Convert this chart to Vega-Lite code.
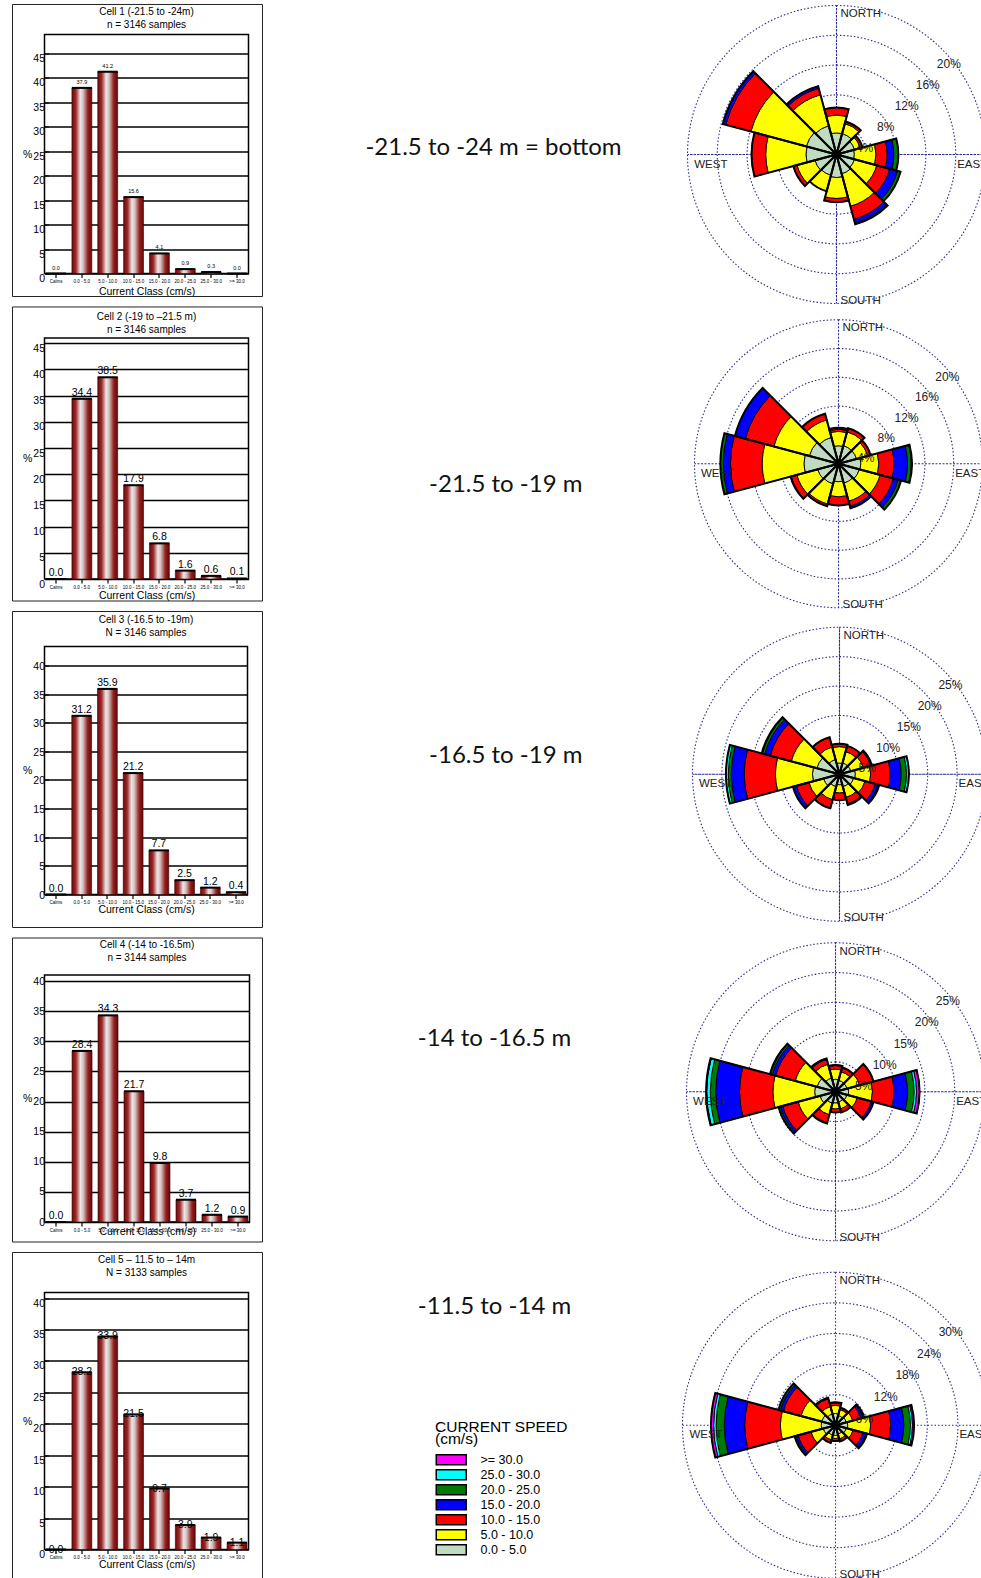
{
"$schema": "https://vega.github.io/schema/vega-lite/v6.json",
"padding": {"left": 10.5, "top": 2.5, "right": 0, "bottom": 0},
"background": "white",
"config": {"view": {"stroke": null}},
"datasets": {
"bars": [
{"cell":1,"cls":"Calms","pct":0.0},{"cell":1,"cls":"0.0 - 5.0","pct":37.9},{"cell":1,"cls":"5.0 - 10.0","pct":41.2},{"cell":1,"cls":"10.0 - 15.0","pct":15.6},{"cell":1,"cls":"15.0 - 20.0","pct":4.1},{"cell":1,"cls":"20.0 - 25.0","pct":0.9},{"cell":1,"cls":"25.0 - 30.0","pct":0.3},{"cell":1,"cls":">= 30.0","pct":0.0},
{"cell":2,"cls":"Calms","pct":0.0},{"cell":2,"cls":"0.0 - 5.0","pct":34.4},{"cell":2,"cls":"5.0 - 10.0","pct":38.5},{"cell":2,"cls":"10.0 - 15.0","pct":17.9},{"cell":2,"cls":"15.0 - 20.0","pct":6.8},{"cell":2,"cls":"20.0 - 25.0","pct":1.6},{"cell":2,"cls":"25.0 - 30.0","pct":0.6},{"cell":2,"cls":">= 30.0","pct":0.1},
{"cell":3,"cls":"Calms","pct":0.0},{"cell":3,"cls":"0.0 - 5.0","pct":31.2},{"cell":3,"cls":"5.0 - 10.0","pct":35.9},{"cell":3,"cls":"10.0 - 15.0","pct":21.2},{"cell":3,"cls":"15.0 - 20.0","pct":7.7},{"cell":3,"cls":"20.0 - 25.0","pct":2.5},{"cell":3,"cls":"25.0 - 30.0","pct":1.2},{"cell":3,"cls":">= 30.0","pct":0.4},
{"cell":4,"cls":"Calms","pct":0.0},{"cell":4,"cls":"0.0 - 5.0","pct":28.4},{"cell":4,"cls":"5.0 - 10.0","pct":34.3},{"cell":4,"cls":"10.0 - 15.0","pct":21.7},{"cell":4,"cls":"15.0 - 20.0","pct":9.8},{"cell":4,"cls":"20.0 - 25.0","pct":3.7},{"cell":4,"cls":"25.0 - 30.0","pct":1.2},{"cell":4,"cls":">= 30.0","pct":0.9},
{"cell":5,"cls":"Calms","pct":0.0},{"cell":5,"cls":"0.0 - 5.0","pct":28.2},{"cell":5,"cls":"5.0 - 10.0","pct":33.9},{"cell":5,"cls":"10.0 - 15.0","pct":21.5},{"cell":5,"cls":"15.0 - 20.0","pct":9.7},{"cell":5,"cls":"20.0 - 25.0","pct":3.9},{"cell":5,"cls":"25.0 - 30.0","pct":1.9},{"cell":5,"cls":">= 30.0","pct":1.1}
],
"depths": [
{"row":1,"label":"-21.5 to -24 m = bottom"},{"row":2,"label":"-21.5 to -19 m"},{"row":3,"label":"-16.5 to -19 m"},{"row":4,"label":"-14 to -16.5 m"},{"row":5,"label":"-11.5 to -14 m"}
],
"rings": [
{"r":1,"v":4,"t":"4%"},{"r":1,"v":8,"t":"8%"},{"r":1,"v":12,"t":"12%"},{"r":1,"v":16,"t":"16%"},{"r":1,"v":20,"t":"20%"},
{"r":2,"v":4,"t":"4%"},{"r":2,"v":8,"t":"8%"},{"r":2,"v":12,"t":"12%"},{"r":2,"v":16,"t":"16%"},{"r":2,"v":20,"t":"20%"},
{"r":3,"v":5,"t":"5%"},{"r":3,"v":10,"t":"10%"},{"r":3,"v":15,"t":"15%"},{"r":3,"v":20,"t":"20%"},{"r":3,"v":25,"t":"25%"},
{"r":4,"v":5,"t":"5%"},{"r":4,"v":10,"t":"10%"},{"r":4,"v":15,"t":"15%"},{"r":4,"v":20,"t":"20%"},{"r":4,"v":25,"t":"25%"},
{"r":5,"v":6,"t":"6%"},{"r":5,"v":12,"t":"12%"},{"r":5,"v":18,"t":"18%"},{"r":5,"v":24,"t":"24%"},{"r":5,"v":30,"t":"30%"}
],
"rose": [
{"r":1,"d":0,"k":0,"p":2.9},{"r":1,"d":0,"k":5,"p":2.4},{"r":1,"d":0,"k":10,"p":1.0},
{"r":1,"d":30,"k":0,"p":2.9},{"r":1,"d":30,"k":5,"p":1.4},{"r":1,"d":30,"k":10,"p":0.2},{"r":1,"d":30,"k":15,"p":0.1},
{"r":1,"d":60,"k":0,"p":2.5},{"r":1,"d":60,"k":5,"p":0.8},{"r":1,"d":60,"k":10,"p":0.3},
{"r":1,"d":90,"k":0,"p":2.4},{"r":1,"d":90,"k":5,"p":2.9},{"r":1,"d":90,"k":10,"p":1.5},{"r":1,"d":90,"k":15,"p":0.9},{"r":1,"d":90,"k":20,"p":0.6},
{"r":1,"d":120,"k":0,"p":2.5},{"r":1,"d":120,"k":5,"p":3.1},{"r":1,"d":120,"k":10,"p":1.8},{"r":1,"d":120,"k":15,"p":1.1},{"r":1,"d":120,"k":20,"p":0.4},
{"r":1,"d":150,"k":0,"p":2.7},{"r":1,"d":150,"k":5,"p":4.5},{"r":1,"d":150,"k":10,"p":1.8},{"r":1,"d":150,"k":15,"p":0.5},{"r":1,"d":150,"k":20,"p":0.2},
{"r":1,"d":180,"k":0,"p":3.1},{"r":1,"d":180,"k":5,"p":2.8},{"r":1,"d":180,"k":10,"p":0.5},
{"r":1,"d":210,"k":0,"p":2.9},{"r":1,"d":210,"k":5,"p":2.2},
{"r":1,"d":240,"k":0,"p":3.0},{"r":1,"d":240,"k":5,"p":2.5},{"r":1,"d":240,"k":10,"p":0.5},
{"r":1,"d":270,"k":0,"p":4.1},{"r":1,"d":270,"k":5,"p":5.4},{"r":1,"d":270,"k":10,"p":1.9},
{"r":1,"d":300,"k":0,"p":4.2},{"r":1,"d":300,"k":5,"p":7.7},{"r":1,"d":300,"k":10,"p":3.5},{"r":1,"d":300,"k":15,"p":0.4},
{"r":1,"d":330,"k":0,"p":4.0},{"r":1,"d":330,"k":5,"p":4.3},{"r":1,"d":330,"k":10,"p":0.9},{"r":1,"d":330,"k":15,"p":0.3},

{"r":2,"d":0,"k":0,"p":2.5},{"r":2,"d":0,"k":5,"p":2.0},{"r":2,"d":0,"k":10,"p":0.3},{"r":2,"d":0,"k":15,"p":0.2},
{"r":2,"d":30,"k":0,"p":2.6},{"r":2,"d":30,"k":5,"p":2.0},{"r":2,"d":30,"k":10,"p":0.5},
{"r":2,"d":60,"k":0,"p":2.6},{"r":2,"d":60,"k":5,"p":1.6},{"r":2,"d":60,"k":10,"p":0.4},
{"r":2,"d":90,"k":0,"p":3.1},{"r":2,"d":90,"k":5,"p":2.5},{"r":2,"d":90,"k":10,"p":2.1},{"r":2,"d":90,"k":15,"p":1.9},{"r":2,"d":90,"k":20,"p":0.5},{"r":2,"d":90,"k":25,"p":0.1},
{"r":2,"d":120,"k":0,"p":3.0},{"r":2,"d":120,"k":5,"p":3.0},{"r":2,"d":120,"k":10,"p":1.9},{"r":2,"d":120,"k":15,"p":0.7},{"r":2,"d":120,"k":20,"p":0.4},
{"r":2,"d":150,"k":0,"p":2.8},{"r":2,"d":150,"k":5,"p":2.6},{"r":2,"d":150,"k":10,"p":0.7},{"r":2,"d":150,"k":15,"p":0.3},
{"r":2,"d":180,"k":0,"p":2.5},{"r":2,"d":180,"k":5,"p":2.1},{"r":2,"d":180,"k":10,"p":1.2},
{"r":2,"d":210,"k":0,"p":2.9},{"r":2,"d":210,"k":5,"p":2.9},{"r":2,"d":210,"k":10,"p":0.3},
{"r":2,"d":240,"k":0,"p":3.0},{"r":2,"d":240,"k":5,"p":3.0},{"r":2,"d":240,"k":10,"p":0.8},{"r":2,"d":240,"k":15,"p":0.1},
{"r":2,"d":270,"k":0,"p":4.8},{"r":2,"d":270,"k":5,"p":5.8},{"r":2,"d":270,"k":10,"p":4.4},{"r":2,"d":270,"k":15,"p":1.0},{"r":2,"d":270,"k":20,"p":0.4},
{"r":2,"d":300,"k":0,"p":4.2},{"r":2,"d":300,"k":5,"p":5.1},{"r":2,"d":300,"k":10,"p":4.1},{"r":2,"d":300,"k":15,"p":1.5},
{"r":2,"d":330,"k":0,"p":3.8},{"r":2,"d":330,"k":5,"p":2.5},{"r":2,"d":330,"k":10,"p":0.9},

{"r":3,"d":0,"k":0,"p":1.9},{"r":3,"d":0,"k":5,"p":2.8},{"r":3,"d":0,"k":10,"p":0.5},
{"r":3,"d":30,"k":0,"p":2.0},{"r":3,"d":30,"k":5,"p":2.0},{"r":3,"d":30,"k":10,"p":1.0},
{"r":3,"d":60,"k":0,"p":2.0},{"r":3,"d":60,"k":5,"p":2.2},{"r":3,"d":60,"k":10,"p":1.3},{"r":3,"d":60,"k":15,"p":0.2},
{"r":3,"d":90,"k":0,"p":2.7},{"r":3,"d":90,"k":5,"p":2.6},{"r":3,"d":90,"k":10,"p":3.3},{"r":3,"d":90,"k":15,"p":1.9},{"r":3,"d":90,"k":20,"p":0.9},{"r":3,"d":90,"k":25,"p":0.4},
{"r":3,"d":120,"k":0,"p":2.5},{"r":3,"d":120,"k":5,"p":2.0},{"r":3,"d":120,"k":10,"p":1.8},{"r":3,"d":120,"k":15,"p":0.5},{"r":3,"d":120,"k":20,"p":0.2},
{"r":3,"d":150,"k":0,"p":2.2},{"r":3,"d":150,"k":5,"p":1.9},{"r":3,"d":150,"k":10,"p":1.1},{"r":3,"d":150,"k":15,"p":0.2},
{"r":3,"d":180,"k":0,"p":1.8},{"r":3,"d":180,"k":5,"p":1.4},{"r":3,"d":180,"k":10,"p":1.2},
{"r":3,"d":210,"k":0,"p":2.2},{"r":3,"d":210,"k":5,"p":2.3},{"r":3,"d":210,"k":10,"p":1.5},
{"r":3,"d":240,"k":0,"p":2.8},{"r":3,"d":240,"k":5,"p":2.6},{"r":3,"d":240,"k":10,"p":2.2},{"r":3,"d":240,"k":15,"p":0.6},
{"r":3,"d":270,"k":0,"p":4.6},{"r":3,"d":270,"k":5,"p":6.3},{"r":3,"d":270,"k":10,"p":5.3},{"r":3,"d":270,"k":15,"p":2.2},{"r":3,"d":270,"k":20,"p":0.5},{"r":3,"d":270,"k":25,"p":0.4},
{"r":3,"d":300,"k":0,"p":4.0},{"r":3,"d":300,"k":5,"p":4.5},{"r":3,"d":300,"k":10,"p":3.7},{"r":3,"d":300,"k":15,"p":1.0},{"r":3,"d":300,"k":20,"p":0.4},{"r":3,"d":300,"k":25,"p":0.1},
{"r":3,"d":330,"k":0,"p":2.6},{"r":3,"d":330,"k":5,"p":2.2},{"r":3,"d":330,"k":10,"p":1.7},

{"r":4,"d":0,"k":0,"p":2.1},{"r":4,"d":0,"k":5,"p":1.7},{"r":4,"d":0,"k":10,"p":0.6},{"r":4,"d":0,"k":15,"p":0.1},
{"r":4,"d":30,"k":0,"p":2.0},{"r":4,"d":30,"k":5,"p":1.5},{"r":4,"d":30,"k":10,"p":0.7},
{"r":4,"d":60,"k":0,"p":2.0},{"r":4,"d":60,"k":5,"p":2.2},{"r":4,"d":60,"k":10,"p":2.3},{"r":4,"d":60,"k":15,"p":0.1},
{"r":4,"d":90,"k":0,"p":2.2},{"r":4,"d":90,"k":5,"p":4.0},{"r":4,"d":90,"k":10,"p":3.6},{"r":4,"d":90,"k":15,"p":2.3},{"r":4,"d":90,"k":20,"p":1.1},{"r":4,"d":90,"k":25,"p":0.4},{"r":4,"d":90,"k":30,"p":0.5},
{"r":4,"d":120,"k":0,"p":2.0},{"r":4,"d":120,"k":5,"p":1.8},{"r":4,"d":120,"k":10,"p":2.4},{"r":4,"d":120,"k":15,"p":0.4},
{"r":4,"d":150,"k":0,"p":1.8},{"r":4,"d":150,"k":5,"p":1.2},{"r":4,"d":150,"k":10,"p":0.6},
{"r":4,"d":180,"k":0,"p":1.9},{"r":4,"d":180,"k":5,"p":1.0},{"r":4,"d":180,"k":10,"p":0.6},
{"r":4,"d":210,"k":0,"p":2.0},{"r":4,"d":210,"k":5,"p":2.0},{"r":4,"d":210,"k":10,"p":1.4},{"r":4,"d":210,"k":15,"p":0.1},
{"r":4,"d":240,"k":0,"p":2.7},{"r":4,"d":240,"k":5,"p":3.8},{"r":4,"d":240,"k":10,"p":2.7},{"r":4,"d":240,"k":15,"p":0.4},{"r":4,"d":240,"k":20,"p":0.3},
{"r":4,"d":270,"k":0,"p":3.5},{"r":4,"d":270,"k":5,"p":7.0},{"r":4,"d":270,"k":10,"p":5.6},{"r":4,"d":270,"k":15,"p":4.0},{"r":4,"d":270,"k":20,"p":0.9},{"r":4,"d":270,"k":25,"p":0.6},{"r":4,"d":270,"k":30,"p":0.1},
{"r":4,"d":300,"k":0,"p":3.2},{"r":4,"d":300,"k":5,"p":3.8},{"r":4,"d":300,"k":10,"p":3.4},{"r":4,"d":300,"k":15,"p":0.6},{"r":4,"d":300,"k":20,"p":0.3},{"r":4,"d":300,"k":25,"p":0.1},
{"r":4,"d":330,"k":0,"p":2.4},{"r":4,"d":330,"k":5,"p":2.4},{"r":4,"d":330,"k":10,"p":0.8},{"r":4,"d":330,"k":15,"p":0.2},

{"r":5,"d":0,"k":0,"p":2.3},{"r":5,"d":0,"k":5,"p":1.6},{"r":5,"d":0,"k":10,"p":0.5},{"r":5,"d":0,"k":15,"p":0.1},
{"r":5,"d":30,"k":0,"p":2.0},{"r":5,"d":30,"k":5,"p":1.2},{"r":5,"d":30,"k":10,"p":0.4},
{"r":5,"d":60,"k":0,"p":2.2},{"r":5,"d":60,"k":5,"p":1.3},{"r":5,"d":60,"k":10,"p":1.7},{"r":5,"d":60,"k":15,"p":0.4},{"r":5,"d":60,"k":20,"p":0.2},
{"r":5,"d":90,"k":0,"p":2.4},{"r":5,"d":90,"k":5,"p":4.5},{"r":5,"d":90,"k":10,"p":3.9},{"r":5,"d":90,"k":15,"p":2.6},{"r":5,"d":90,"k":20,"p":1.3},{"r":5,"d":90,"k":25,"p":0.4},{"r":5,"d":90,"k":30,"p":0.3},
{"r":5,"d":120,"k":0,"p":2.2},{"r":5,"d":120,"k":5,"p":1.4},{"r":5,"d":120,"k":10,"p":2.0},{"r":5,"d":120,"k":15,"p":0.6},{"r":5,"d":120,"k":20,"p":0.2},
{"r":5,"d":150,"k":0,"p":1.8},{"r":5,"d":150,"k":5,"p":1.0},{"r":5,"d":150,"k":10,"p":0.5},
{"r":5,"d":180,"k":0,"p":2.0},{"r":5,"d":180,"k":5,"p":0.6},{"r":5,"d":180,"k":10,"p":0.5},
{"r":5,"d":210,"k":0,"p":2.0},{"r":5,"d":210,"k":5,"p":1.0},{"r":5,"d":210,"k":10,"p":0.6},
{"r":5,"d":240,"k":0,"p":2.5},{"r":5,"d":240,"k":5,"p":2.5},{"r":5,"d":240,"k":10,"p":2.6},{"r":5,"d":240,"k":15,"p":0.4},{"r":5,"d":240,"k":20,"p":0.3},
{"r":5,"d":270,"k":0,"p":2.8},{"r":5,"d":270,"k":5,"p":8.0},{"r":5,"d":270,"k":10,"p":7.0},{"r":5,"d":270,"k":15,"p":4.0},{"r":5,"d":270,"k":20,"p":1.6},{"r":5,"d":270,"k":25,"p":0.5},{"r":5,"d":270,"k":30,"p":0.5},
{"r":5,"d":300,"k":0,"p":2.8},{"r":5,"d":300,"k":5,"p":4.2},{"r":5,"d":300,"k":10,"p":3.6},{"r":5,"d":300,"k":15,"p":0.6},{"r":5,"d":300,"k":20,"p":0.4},
{"r":5,"d":330,"k":0,"p":2.3},{"r":5,"d":330,"k":5,"p":1.5},{"r":5,"d":330,"k":10,"p":1.6},{"r":5,"d":330,"k":15,"p":0.2}
]
},
"spacing": 0,
"hconcat": [
{
"spacing": 6.5,
"vconcat": [
{
"width": 204, "height": 239,
"view": {"stroke": "#000", "strokeWidth": 1.5},
"title": {"text": "Cell 1 (-21.5 to -24m)", "subtitle": "n = 3146 samples", "offset": -26.5, "subtitlePadding": 3, "font": "Liberation Sans", "subtitleFont": "Liberation Sans", "fontSize": 10, "subtitleFontSize": 10, "fontWeight": "normal", "color": "#000", "subtitleColor": "#000"},
"layer": [
{"data": {"name": "bars"}, "transform": [{"filter": "datum.cell == 1"}],
"encoding": {
"x": {"field": "cls", "type": "nominal", "scale": {"domain": ["Calms","0.0 - 5.0","5.0 - 10.0","10.0 - 15.0","15.0 - 20.0","20.0 - 25.0","25.0 - 30.0",">= 30.0"], "paddingInner": 0.23, "paddingOuter": 0.06},
"axis": {"title": "Current Class (cm/s)", "titlePadding": 3.5, "titleFont": "Liberation Sans", "titleFontSize": 10.5, "titleFontWeight": "normal", "titleColor": "#000", "labelFont": "Liberation Sans", "labelFontSize": 4.5, "labelColor": "#000", "labelAngle": 0, "labelPadding": 1, "labelOverlap": false, "labelBound": false, "labelLimit": 0, "domain": false, "ticks": true, "tickColor": "#000", "tickSize": 4, "tickWidth": 1.2, "grid": false}},
"y": {"field": "pct", "type": "quantitative", "scale": {"domain": [0, 48.8], "nice": false},
"axis": {"values": [0,5,10,15,20,25,30,35,40,45], "labelOffset": 5, "title": "%", "titleAngle": 0, "titleAlign": "right", "titleBaseline": "middle", "titleFont": "Liberation Sans", "titleFontSize": 10.5, "titleFontWeight": "normal", "titleColor": "#000", "titlePadding": 1, "labelFont": "Liberation Sans", "labelFontSize": 10.5, "labelColor": "#000", "labelPadding": 4, "labelOverlap": false, "labelBound": false, "labelFlush": false, "grid": true, "gridColor": "#000", "gridWidth": 1.3, "gridOpacity": 1, "domain": false, "ticks": true, "tickColor": "#000", "tickSize": -4, "tickWidth": 1}}},
"layer": [
{"mark": {"type": "bar", "color": {"gradient": "linear", "x1": 0, "y1": 0, "x2": 1, "y2": 0, "stops": [{"offset": 0, "color": "#6b0808"}, {"offset": 0.2, "color": "#a02a2a"}, {"offset": 0.42, "color": "#ece6e6"}, {"offset": 0.56, "color": "#d4c2c2"}, {"offset": 0.8, "color": "#952020"}, {"offset": 1, "color": "#640707"}]}, "stroke": "#3a0505", "strokeWidth": 0.6}},
{"mark": {"type": "tick", "color": "#000", "thickness": 2, "size": 20, "opacity": 1}},
{"mark": {"type": "text", "baseline": "bottom", "dy": -3, "font": "Liberation Sans", "fontSize": 5.5, "color": "#000"}, "encoding": {"text": {"field": "pct", "type": "quantitative", "format": ".1f"}}}
]},
{"data": {"name": "bars"}, "transform": [{"filter": "datum.cell == 1 && datum.cls == 'Calms'"}],
"mark": {"type": "rect", "filled": false, "stroke": "#222", "strokeWidth": 1},
"encoding": {"x": {"datum": -0.1569, "type": "quantitative", "scale": {"domain": [0, 1], "nice": false, "zero": false}, "axis": null}, "x2": {"datum": 1.0686},
"y": {"datum": 54.93, "type": "quantitative", "scale": {"domain": [0, 48.8], "nice": false}, "axis": null}, "y2": {"datum": -4.7}}}
],
"resolve": {"scale": {"x": "independent"}, "axis": {"y": "independent"}}
},
{
"width": 204, "height": 241,
"view": {"stroke": "#000", "strokeWidth": 1.5},
"title": {"text": "Cell 2 (-19  to \u201321.5 m)", "subtitle": "n =  3146 samples", "offset": -28.5, "subtitlePadding": 3, "font": "Liberation Sans", "subtitleFont": "Liberation Sans", "fontSize": 10, "subtitleFontSize": 10, "fontWeight": "normal", "color": "#000", "subtitleColor": "#000"},
"layer": [
{"data": {"name": "bars"}, "transform": [{"filter": "datum.cell == 2"}],
"encoding": {
"x": {"field": "cls", "type": "nominal", "scale": {"domain": ["Calms","0.0 - 5.0","5.0 - 10.0","10.0 - 15.0","15.0 - 20.0","20.0 - 25.0","25.0 - 30.0",">= 30.0"], "paddingInner": 0.23, "paddingOuter": 0.06},
"axis": {"title": "Current Class (cm/s)", "titlePadding": 1.5, "titleFont": "Liberation Sans", "titleFontSize": 10.5, "titleFontWeight": "normal", "titleColor": "#000", "labelFont": "Liberation Sans", "labelFontSize": 4.5, "labelColor": "#000", "labelAngle": 0, "labelPadding": 1, "labelOverlap": false, "labelBound": false, "labelLimit": 0, "domain": false, "ticks": true, "tickColor": "#000", "tickSize": 4, "tickWidth": 1.2, "grid": false}},
"y": {"field": "pct", "type": "quantitative", "scale": {"domain": [0, 46], "nice": false},
"axis": {"values": [0,5,10,15,20,25,30,35,40,45], "labelOffset": 5, "title": "%", "titleAngle": 0, "titleAlign": "right", "titleBaseline": "middle", "titleFont": "Liberation Sans", "titleFontSize": 10.5, "titleFontWeight": "normal", "titleColor": "#000", "titlePadding": 1, "labelFont": "Liberation Sans", "labelFontSize": 10.5, "labelColor": "#000", "labelPadding": 4, "labelOverlap": false, "labelBound": false, "labelFlush": false, "grid": true, "gridColor": "#000", "gridWidth": 1.3, "gridOpacity": 1, "domain": false, "ticks": true, "tickColor": "#000", "tickSize": -4, "tickWidth": 1}}},
"layer": [
{"mark": {"type": "bar", "color": {"gradient": "linear", "x1": 0, "y1": 0, "x2": 1, "y2": 0, "stops": [{"offset": 0, "color": "#6b0808"}, {"offset": 0.2, "color": "#a02a2a"}, {"offset": 0.42, "color": "#ece6e6"}, {"offset": 0.56, "color": "#d4c2c2"}, {"offset": 0.8, "color": "#952020"}, {"offset": 1, "color": "#640707"}]}, "stroke": "#3a0505", "strokeWidth": 0.6}},
{"mark": {"type": "tick", "color": "#000", "thickness": 2, "size": 20, "opacity": 1}},
{"mark": {"type": "text", "baseline": "bottom", "dy": -1, "font": "Liberation Sans", "fontSize": 10.5, "color": "#000"}, "encoding": {"text": {"field": "pct", "type": "quantitative", "format": ".1f"}}}
]},
{"data": {"name": "bars"}, "transform": [{"filter": "datum.cell == 2 && datum.cls == 'Calms'"}],
"mark": {"type": "rect", "filled": false, "stroke": "#222", "strokeWidth": 1},
"encoding": {"x": {"datum": -0.1569, "type": "quantitative", "scale": {"domain": [0, 1], "nice": false, "zero": false}, "axis": null}, "x2": {"datum": 1.0686},
"y": {"datum": 51.92, "type": "quantitative", "scale": {"domain": [0, 46], "nice": false}, "axis": null}, "y2": {"datum": -4.2}}}
],
"resolve": {"scale": {"x": "independent"}, "axis": {"y": "independent"}}
},
{
"width": 203, "height": 248,
"view": {"stroke": "#000", "strokeWidth": 1.5},
"title": {"text": "Cell 3 (-16.5 to -19m)", "subtitle": "N = 3146 samples", "offset": -26.5, "subtitlePadding": 3, "font": "Liberation Sans", "subtitleFont": "Liberation Sans", "fontSize": 10, "subtitleFontSize": 10, "fontWeight": "normal", "color": "#000", "subtitleColor": "#000"},
"layer": [
{"data": {"name": "bars"}, "transform": [{"filter": "datum.cell == 3"}],
"encoding": {
"x": {"field": "cls", "type": "nominal", "scale": {"domain": ["Calms","0.0 - 5.0","5.0 - 10.0","10.0 - 15.0","15.0 - 20.0","20.0 - 25.0","25.0 - 30.0",">= 30.0"], "paddingInner": 0.23, "paddingOuter": 0.06},
"axis": {"title": "Current Class (cm/s)", "titlePadding": 0.5, "titleFont": "Liberation Sans", "titleFontSize": 10.5, "titleFontWeight": "normal", "titleColor": "#000", "labelFont": "Liberation Sans", "labelFontSize": 4.5, "labelColor": "#000", "labelAngle": 0, "labelPadding": 1, "labelOverlap": false, "labelBound": false, "labelLimit": 0, "domain": false, "ticks": true, "tickColor": "#000", "tickSize": 4, "tickWidth": 1.2, "grid": false}},
"y": {"field": "pct", "type": "quantitative", "scale": {"domain": [0, 43.3], "nice": false},
"axis": {"values": [0,5,10,15,20,25,30,35,40], "labelOffset": 1, "title": "%", "titleAngle": 0, "titleAlign": "right", "titleBaseline": "middle", "titleFont": "Liberation Sans", "titleFontSize": 10.5, "titleFontWeight": "normal", "titleColor": "#000", "titlePadding": 1, "labelFont": "Liberation Sans", "labelFontSize": 10.5, "labelColor": "#000", "labelPadding": 4, "labelOverlap": false, "labelBound": false, "labelFlush": false, "grid": true, "gridColor": "#000", "gridWidth": 1.3, "gridOpacity": 1, "domain": false, "ticks": true, "tickColor": "#000", "tickSize": -4, "tickWidth": 1}}},
"layer": [
{"mark": {"type": "bar", "color": {"gradient": "linear", "x1": 0, "y1": 0, "x2": 1, "y2": 0, "stops": [{"offset": 0, "color": "#6b0808"}, {"offset": 0.2, "color": "#a02a2a"}, {"offset": 0.42, "color": "#ece6e6"}, {"offset": 0.56, "color": "#d4c2c2"}, {"offset": 0.8, "color": "#952020"}, {"offset": 1, "color": "#640707"}]}, "stroke": "#3a0505", "strokeWidth": 0.6}},
{"mark": {"type": "tick", "color": "#000", "thickness": 2, "size": 20, "opacity": 1}},
{"mark": {"type": "text", "baseline": "bottom", "dy": -1, "font": "Liberation Sans", "fontSize": 10.5, "color": "#000"}, "encoding": {"text": {"field": "pct", "type": "quantitative", "format": ".1f"}}}
]},
{"data": {"name": "bars"}, "transform": [{"filter": "datum.cell == 3 && datum.cls == 'Calms'"}],
"mark": {"type": "rect", "filled": false, "stroke": "#222", "strokeWidth": 1},
"encoding": {"x": {"datum": -0.1576, "type": "quantitative", "scale": {"domain": [0, 1], "nice": false, "zero": false}, "axis": null}, "x2": {"datum": 1.0739},
"y": {"datum": 49.41, "type": "quantitative", "scale": {"domain": [0, 43.3], "nice": false}, "axis": null}, "y2": {"datum": -5.76}}}
],
"resolve": {"scale": {"x": "independent"}, "axis": {"y": "independent"}}
},
{
"width": 205, "height": 247,
"view": {"stroke": "#000", "strokeWidth": 1.5},
"title": {"text": "Cell 4 (-14 to -16.5m)", "subtitle": "n = 3144 samples", "offset": -25.5, "subtitlePadding": 3, "font": "Liberation Sans", "subtitleFont": "Liberation Sans", "fontSize": 10, "subtitleFontSize": 10, "fontWeight": "normal", "color": "#000", "subtitleColor": "#000"},
"layer": [
{"data": {"name": "bars"}, "transform": [{"filter": "datum.cell == 4"}],
"encoding": {
"x": {"field": "cls", "type": "nominal", "scale": {"domain": ["Calms","0.0 - 5.0","5.0 - 10.0","10.0 - 15.0","15.0 - 20.0","20.0 - 25.0","25.0 - 30.0",">= 30.0"], "paddingInner": 0.23, "paddingOuter": 0.06},
"axis": {"title": "Current Class (cm/s)", "titlePadding": -5.5, "titleFont": "Liberation Sans", "titleFontSize": 10.5, "titleFontWeight": "normal", "titleColor": "#000", "labelFont": "Liberation Sans", "labelFontSize": 4.5, "labelColor": "#000", "labelAngle": 0, "labelPadding": 1, "labelOverlap": false, "labelBound": false, "labelLimit": 0, "domain": false, "ticks": true, "tickColor": "#000", "tickSize": 4, "tickWidth": 1.2, "grid": false}},
"y": {"field": "pct", "type": "quantitative", "scale": {"domain": [0, 41], "nice": false},
"axis": {"values": [0,5,10,15,20,25,30,35,40], "labelOffset": 0, "title": "%", "titleAngle": 0, "titleAlign": "right", "titleBaseline": "middle", "titleFont": "Liberation Sans", "titleFontSize": 10.5, "titleFontWeight": "normal", "titleColor": "#000", "titlePadding": 1, "labelFont": "Liberation Sans", "labelFontSize": 10.5, "labelColor": "#000", "labelPadding": 4, "labelOverlap": false, "labelBound": false, "labelFlush": false, "grid": true, "gridColor": "#000", "gridWidth": 1.3, "gridOpacity": 1, "domain": false, "ticks": true, "tickColor": "#000", "tickSize": -4, "tickWidth": 1}}},
"layer": [
{"mark": {"type": "bar", "color": {"gradient": "linear", "x1": 0, "y1": 0, "x2": 1, "y2": 0, "stops": [{"offset": 0, "color": "#6b0808"}, {"offset": 0.2, "color": "#a02a2a"}, {"offset": 0.42, "color": "#ece6e6"}, {"offset": 0.56, "color": "#d4c2c2"}, {"offset": 0.8, "color": "#952020"}, {"offset": 1, "color": "#640707"}]}, "stroke": "#3a0505", "strokeWidth": 0.6}},
{"mark": {"type": "tick", "color": "#000", "thickness": 2, "size": 20, "opacity": 1}},
{"mark": {"type": "text", "baseline": "bottom", "dy": -1, "font": "Liberation Sans", "fontSize": 10.5, "color": "#000"}, "encoding": {"text": {"field": "pct", "type": "quantitative", "format": ".1f"}}}
]},
{"data": {"name": "bars"}, "transform": [{"filter": "datum.cell == 4 && datum.cls == 'Calms'"}],
"mark": {"type": "rect", "filled": false, "stroke": "#222", "strokeWidth": 1},
"encoding": {"x": {"datum": -0.1561, "type": "quantitative", "scale": {"domain": [0, 1], "nice": false, "zero": false}, "axis": null}, "x2": {"datum": 1.0634},
"y": {"datum": 47.14, "type": "quantitative", "scale": {"domain": [0, 41], "nice": false}, "axis": null}, "y2": {"datum": -3.32}}}
],
"resolve": {"scale": {"x": "independent"}, "axis": {"y": "independent"}}
},
{
"width": 204, "height": 257,
"view": {"stroke": "#000", "strokeWidth": 1.5},
"title": {"text": "Cell 5 \u2013 11.5 to \u2013 14m", "subtitle": "N =  3133 samples", "offset": -26.5, "subtitlePadding": 3, "font": "Liberation Sans", "subtitleFont": "Liberation Sans", "fontSize": 10, "subtitleFontSize": 10, "fontWeight": "normal", "color": "#000", "subtitleColor": "#000"},
"layer": [
{"data": {"name": "bars"}, "transform": [{"filter": "datum.cell == 5"}],
"encoding": {
"x": {"field": "cls", "type": "nominal", "scale": {"domain": ["Calms","0.0 - 5.0","5.0 - 10.0","10.0 - 15.0","15.0 - 20.0","20.0 - 25.0","25.0 - 30.0",">= 30.0"], "paddingInner": 0.23, "paddingOuter": 0.06},
"axis": {"title": "Current Class (cm/s)", "titlePadding": 0.5, "titleFont": "Liberation Sans", "titleFontSize": 10.5, "titleFontWeight": "normal", "titleColor": "#000", "labelFont": "Liberation Sans", "labelFontSize": 4.5, "labelColor": "#000", "labelAngle": 0, "labelPadding": 1, "labelOverlap": false, "labelBound": false, "labelLimit": 0, "domain": false, "ticks": true, "tickColor": "#000", "tickSize": 4, "tickWidth": 1.2, "grid": false}},
"y": {"field": "pct", "type": "quantitative", "scale": {"domain": [0, 40.9], "nice": false},
"axis": {"values": [0,5,10,15,20,25,30,35,40], "labelOffset": 5, "title": "%", "titleAngle": 0, "titleAlign": "right", "titleBaseline": "middle", "titleFont": "Liberation Sans", "titleFontSize": 10.5, "titleFontWeight": "normal", "titleColor": "#000", "titlePadding": 1, "labelFont": "Liberation Sans", "labelFontSize": 10.5, "labelColor": "#000", "labelPadding": 4, "labelOverlap": false, "labelBound": false, "labelFlush": false, "grid": true, "gridColor": "#000", "gridWidth": 1.3, "gridOpacity": 1, "domain": false, "ticks": true, "tickColor": "#000", "tickSize": -4, "tickWidth": 1}}},
"layer": [
{"mark": {"type": "bar", "color": {"gradient": "linear", "x1": 0, "y1": 0, "x2": 1, "y2": 0, "stops": [{"offset": 0, "color": "#6b0808"}, {"offset": 0.2, "color": "#a02a2a"}, {"offset": 0.42, "color": "#ece6e6"}, {"offset": 0.56, "color": "#d4c2c2"}, {"offset": 0.8, "color": "#952020"}, {"offset": 1, "color": "#640707"}]}, "stroke": "#3a0505", "strokeWidth": 0.6}},
{"mark": {"type": "tick", "color": "#000", "thickness": 2, "size": 20, "opacity": 1}},
{"mark": {"type": "text", "baseline": "middle", "font": "Liberation Sans", "fontSize": 10.5, "color": "#000"}, "encoding": {"text": {"field": "pct", "type": "quantitative", "format": ".1f"}}}
]},
{"data": {"name": "bars"}, "transform": [{"filter": "datum.cell == 5 && datum.cls == 'Calms'"}],
"mark": {"type": "rect", "filled": false, "stroke": "#222", "strokeWidth": 1},
"encoding": {"x": {"datum": -0.1569, "type": "quantitative", "scale": {"domain": [0, 1], "nice": false, "zero": false}, "axis": null}, "x2": {"datum": 1.0686},
"y": {"datum": 47.27, "type": "quantitative", "scale": {"domain": [0, 40.9], "nice": false}, "axis": null}, "y2": {"datum": -6.37}}}
],
"resolve": {"scale": {"x": "independent"}, "axis": {"y": "independent"}}
}
]
},
{
"spacing": 0,
"vconcat": [
{"width": 414.5, "height": 226, "data": {"name": "depths"}, "transform": [{"filter": "datum.row == 1"}], "mark": {"type": "text", "font": "Lato", "fontSize": 24, "color": "#111", "dx": 21.75}, "encoding": {"text": {"field": "label"}}},
{"width": 414.5, "height": 448, "data": {"name": "depths"}, "transform": [{"filter": "datum.row == 2"}], "mark": {"type": "text", "font": "Lato", "fontSize": 24, "color": "#111", "dx": 34}, "encoding": {"text": {"field": "label"}}},
{"width": 414.5, "height": 94, "data": {"name": "depths"}, "transform": [{"filter": "datum.row == 3"}], "mark": {"type": "text", "font": "Lato", "fontSize": 24, "color": "#111", "dx": 34}, "encoding": {"text": {"field": "label"}}},
{"width": 414.5, "height": 472, "data": {"name": "depths"}, "transform": [{"filter": "datum.row == 4"}], "mark": {"type": "text", "font": "Lato", "fontSize": 24, "color": "#111", "dx": 22.75}, "encoding": {"text": {"field": "label"}}},
{"width": 414.5, "height": 64, "data": {"name": "depths"}, "transform": [{"filter": "datum.row == 5"}], "mark": {"type": "text", "font": "Lato", "fontSize": 24, "color": "#111", "dx": 22.75}, "encoding": {"text": {"field": "label"}}}
]
},
{
"spacing": 0,
"vconcat": [
{
"width": 312, "height": 240,
"layer": [
{"data": {"name": "rose"}, "transform": [{"filter": "datum.r == 1 && datum.k == 0 && datum.d % 90 == 0"}], "mark": {"type": "arc", "filled": false, "stroke": "#2b2b96", "strokeWidth": 1.1, "strokeDash": [1.5, 2]}, "encoding": {"theta": {"field": "d", "type": "quantitative", "scale": {"domain": [0, 360]}, "stack": null}, "theta2": {"field": "d"}, "radius": {"datum": 20, "type": "quantitative", "scale": {"domain": [0, 20], "range": [0, 149], "nice": false, "zero": true}}, "radius2": {"datum": 0}}},
{"data": {"name": "rings"}, "transform": [{"filter": "datum.r == 1"}], "mark": {"type": "arc", "filled": false, "theta": 0, "theta2": 6.2832, "stroke": "#2b2b96", "strokeWidth": 1.1, "strokeDash": [1.5, 2]}, "encoding": {"radius": {"field": "v", "type": "quantitative", "scale": {"domain": [0, 20], "range": [0, 149], "nice": false, "zero": true}, "stack": null}}},
{"data": {"name": "rose"}, "transform": [{"filter": "datum.r == 1"}, {"stack": "p", "groupby": ["d"], "sort": [{"field": "k", "order": "ascending"}], "as": ["lo", "hi"]}], "mark": {"type": "arc", "opacity": 1, "stroke": "#000", "strokeWidth": 0.9, "thetaOffset": -0.2618, "theta2Offset": 0.2618}, "encoding": {"theta": {"field": "d", "type": "quantitative", "scale": {"domain": [0, 360]}, "stack": null}, "theta2": {"field": "d"}, "radius": {"field": "hi", "type": "quantitative", "scale": {"domain": [0, 20], "range": [0, 149], "nice": false, "zero": true}, "stack": null}, "radius2": {"field": "lo"},
"color": {"field": "k", "type": "ordinal", "scale": {"domain": [30, 25, 20, 15, 10, 5, 0], "range": ["#ff00ff", "#00ffff", "#007a00", "#0000ff", "#ff0000", "#ffff00", "#c0dcc0"]}, "legend": {"orient": "none", "legendX": 390.5, "legendY": 1385.5, "title": ["CURRENT SPEED", "(cm/s)"], "titleFont": "Liberation Sans", "titleFontSize": 15.5, "titleFontWeight": "normal", "titleColor": "#000", "titleLineHeight": 12, "titlePadding": 6, "symbolType": "M-1,-1H5V1H-1Z", "symbolSize": 100, "symbolStrokeColor": "#000", "symbolStrokeWidth": 1.5, "symbolOpacity": 1, "labelFont": "Liberation Sans", "labelFontSize": 12.5, "labelColor": "#000", "labelOffset": 33, "rowPadding": -3.1, "labelExpr": "datum.value == 30 ? '>= 30.0' : datum.value == 25 ? '25.0 - 30.0' : datum.value == 20 ? '20.0 - 25.0' : datum.value == 15 ? '15.0 - 20.0' : datum.value == 10 ? '10.0 - 15.0' : datum.value == 5 ? '5.0 - 10.0' : '0.0 - 5.0'"}}}},
{"data": {"name": "rose"}, "transform": [{"filter": "datum.r == 1"}, {"aggregate": [{"op": "sum", "field": "p", "as": "t"}], "groupby": ["d"]}], "mark": {"type": "arc", "filled": false, "stroke": "#000", "strokeWidth": 2, "thetaOffset": -0.2618, "theta2Offset": 0.2618}, "encoding": {"theta": {"field": "d", "type": "quantitative", "scale": {"domain": [0, 360]}, "stack": null}, "theta2": {"field": "d"}, "radius": {"field": "t", "type": "quantitative", "scale": {"domain": [0, 20], "range": [0, 149], "nice": false, "zero": true}, "stack": null}}},
{"data": {"name": "rings"}, "transform": [{"filter": "datum.r == 1"}], "mark": {"type": "text", "dx": 7, "dy": 15, "font": "Liberation Sans", "fontSize": 12, "color": "#222"}, "encoding": {"theta": {"datum": 45, "type": "quantitative", "scale": {"domain": [0, 360]}}, "radius": {"field": "v", "type": "quantitative", "scale": {"domain": [0, 20], "range": [0, 149], "nice": false, "zero": true}, "stack": null}, "text": {"field": "t"}}},
{"data": {"name": "rings"}, "transform": [{"filter": "datum.r == 1 && datum.v == 20"}], "mark": {"type": "text", "text": "NORTH", "align": "left", "dx": 4, "font": "Liberation Sans", "fontSize": 11.5, "color": "#222"}, "encoding": {"theta": {"datum": 0, "type": "quantitative", "scale": {"domain": [0, 360]}}, "radius": {"datum": 18.8, "type": "quantitative", "scale": {"domain": [0, 20], "range": [0, 149], "nice": false, "zero": true}}}},
{"data": {"name": "rings"}, "transform": [{"filter": "datum.r == 1 && datum.v == 20"}], "mark": {"type": "text", "text": "SOUTH", "align": "left", "dx": 4, "font": "Liberation Sans", "fontSize": 11.5, "color": "#222"}, "encoding": {"theta": {"datum": 180, "type": "quantitative", "scale": {"domain": [0, 360]}}, "radius": {"datum": 19.6, "type": "quantitative", "scale": {"domain": [0, 20], "range": [0, 149], "nice": false, "zero": true}}}},
{"data": {"name": "rings"}, "transform": [{"filter": "datum.r == 1 && datum.v == 20"}], "mark": {"type": "text", "text": "WEST", "align": "left", "dy": 10, "font": "Liberation Sans", "fontSize": 11.5, "color": "#222"}, "encoding": {"theta": {"datum": 270, "type": "quantitative", "scale": {"domain": [0, 360]}}, "radius": {"datum": 19.1, "type": "quantitative", "scale": {"domain": [0, 20], "range": [0, 149], "nice": false, "zero": true}}}},
{"data": {"name": "rings"}, "transform": [{"filter": "datum.r == 1 && datum.v == 20"}], "mark": {"type": "text", "text": "EAST", "align": "left", "dy": 10, "font": "Liberation Sans", "fontSize": 11.5, "color": "#222"}, "encoding": {"theta": {"datum": 90, "type": "quantitative", "scale": {"domain": [0, 360]}}, "radius": {"datum": 16.2, "type": "quantitative", "scale": {"domain": [0, 20], "range": [0, 149], "nice": false, "zero": true}}}}
]
},
{
"width": 316, "height": 314.5,
"layer": [
{"data": {"name": "rose"}, "transform": [{"filter": "datum.r == 2 && datum.k == 0 && datum.d % 90 == 0"}], "mark": {"type": "arc", "filled": false, "stroke": "#2b2b96", "strokeWidth": 1.1, "strokeDash": [1.5, 2]}, "encoding": {"theta": {"field": "d", "type": "quantitative", "scale": {"domain": [0, 360]}, "stack": null}, "theta2": {"field": "d"}, "radius": {"datum": 20, "type": "quantitative", "scale": {"domain": [0, 20], "range": [0, 144], "nice": false, "zero": true}}, "radius2": {"datum": 0}}},
{"data": {"name": "rings"}, "transform": [{"filter": "datum.r == 2"}], "mark": {"type": "arc", "filled": false, "theta": 0, "theta2": 6.2832, "stroke": "#2b2b96", "strokeWidth": 1.1, "strokeDash": [1.5, 2]}, "encoding": {"radius": {"field": "v", "type": "quantitative", "scale": {"domain": [0, 20], "range": [0, 144], "nice": false, "zero": true}, "stack": null}}},
{"data": {"name": "rose"}, "transform": [{"filter": "datum.r == 2"}, {"stack": "p", "groupby": ["d"], "sort": [{"field": "k", "order": "ascending"}], "as": ["lo", "hi"]}], "mark": {"type": "arc", "opacity": 1, "stroke": "#000", "strokeWidth": 0.9, "thetaOffset": -0.2618, "theta2Offset": 0.2618}, "encoding": {"theta": {"field": "d", "type": "quantitative", "scale": {"domain": [0, 360]}, "stack": null}, "theta2": {"field": "d"}, "radius": {"field": "hi", "type": "quantitative", "scale": {"domain": [0, 20], "range": [0, 144], "nice": false, "zero": true}, "stack": null}, "radius2": {"field": "lo"},
"color": {"field": "k", "type": "ordinal", "scale": {"domain": [30, 25, 20, 15, 10, 5, 0], "range": ["#ff00ff", "#00ffff", "#007a00", "#0000ff", "#ff0000", "#ffff00", "#c0dcc0"]}, "legend": {"orient": "none", "legendX": 390.5, "legendY": 1385.5, "title": ["CURRENT SPEED", "(cm/s)"], "titleFont": "Liberation Sans", "titleFontSize": 15.5, "titleFontWeight": "normal", "titleColor": "#000", "titleLineHeight": 12, "titlePadding": 6, "symbolType": "M-1,-1H5V1H-1Z", "symbolSize": 100, "symbolStrokeColor": "#000", "symbolStrokeWidth": 1.5, "symbolOpacity": 1, "labelFont": "Liberation Sans", "labelFontSize": 12.5, "labelColor": "#000", "labelOffset": 33, "rowPadding": -3.1, "labelExpr": "datum.value == 30 ? '>= 30.0' : datum.value == 25 ? '25.0 - 30.0' : datum.value == 20 ? '20.0 - 25.0' : datum.value == 15 ? '15.0 - 20.0' : datum.value == 10 ? '10.0 - 15.0' : datum.value == 5 ? '5.0 - 10.0' : '0.0 - 5.0'"}}}},
{"data": {"name": "rose"}, "transform": [{"filter": "datum.r == 2"}, {"aggregate": [{"op": "sum", "field": "p", "as": "t"}], "groupby": ["d"]}], "mark": {"type": "arc", "filled": false, "stroke": "#000", "strokeWidth": 2, "thetaOffset": -0.2618, "theta2Offset": 0.2618}, "encoding": {"theta": {"field": "d", "type": "quantitative", "scale": {"domain": [0, 360]}, "stack": null}, "theta2": {"field": "d"}, "radius": {"field": "t", "type": "quantitative", "scale": {"domain": [0, 20], "range": [0, 144], "nice": false, "zero": true}, "stack": null}}},
{"data": {"name": "rings"}, "transform": [{"filter": "datum.r == 2"}], "mark": {"type": "text", "dx": 7, "dy": 15, "font": "Liberation Sans", "fontSize": 12, "color": "#222"}, "encoding": {"theta": {"datum": 45, "type": "quantitative", "scale": {"domain": [0, 360]}}, "radius": {"field": "v", "type": "quantitative", "scale": {"domain": [0, 20], "range": [0, 144], "nice": false, "zero": true}, "stack": null}, "text": {"field": "t"}}},
{"data": {"name": "rings"}, "transform": [{"filter": "datum.r == 2 && datum.v == 20"}], "mark": {"type": "text", "text": "NORTH", "align": "left", "dx": 4, "font": "Liberation Sans", "fontSize": 11.5, "color": "#222"}, "encoding": {"theta": {"datum": 0, "type": "quantitative", "scale": {"domain": [0, 360]}}, "radius": {"datum": 18.8, "type": "quantitative", "scale": {"domain": [0, 20], "range": [0, 144], "nice": false, "zero": true}}}},
{"data": {"name": "rings"}, "transform": [{"filter": "datum.r == 2 && datum.v == 20"}], "mark": {"type": "text", "text": "SOUTH", "align": "left", "dx": 4, "font": "Liberation Sans", "fontSize": 11.5, "color": "#222"}, "encoding": {"theta": {"datum": 180, "type": "quantitative", "scale": {"domain": [0, 360]}}, "radius": {"datum": 19.6, "type": "quantitative", "scale": {"domain": [0, 20], "range": [0, 144], "nice": false, "zero": true}}}},
{"data": {"name": "rings"}, "transform": [{"filter": "datum.r == 2 && datum.v == 20"}], "mark": {"type": "text", "text": "WEST", "align": "left", "dy": 10, "font": "Liberation Sans", "fontSize": 11.5, "color": "#222"}, "encoding": {"theta": {"datum": 270, "type": "quantitative", "scale": {"domain": [0, 360]}}, "radius": {"datum": 19.1, "type": "quantitative", "scale": {"domain": [0, 20], "range": [0, 144], "nice": false, "zero": true}}}},
{"data": {"name": "rings"}, "transform": [{"filter": "datum.r == 2 && datum.v == 20"}], "mark": {"type": "text", "text": "EAST", "align": "left", "dy": 10, "font": "Liberation Sans", "fontSize": 11.5, "color": "#222"}, "encoding": {"theta": {"datum": 90, "type": "quantitative", "scale": {"domain": [0, 360]}}, "radius": {"datum": 16.2, "type": "quantitative", "scale": {"domain": [0, 20], "range": [0, 144], "nice": false, "zero": true}}}}
]
},
{
"width": 318, "height": 305.5,
"layer": [
{"data": {"name": "rose"}, "transform": [{"filter": "datum.r == 3 && datum.k == 0 && datum.d % 90 == 0"}], "mark": {"type": "arc", "filled": false, "stroke": "#2b2b96", "strokeWidth": 1.1, "strokeDash": [1.5, 2]}, "encoding": {"theta": {"field": "d", "type": "quantitative", "scale": {"domain": [0, 360]}, "stack": null}, "theta2": {"field": "d"}, "radius": {"datum": 25, "type": "quantitative", "scale": {"domain": [0, 25], "range": [0, 147], "nice": false, "zero": true}}, "radius2": {"datum": 0}}},
{"data": {"name": "rings"}, "transform": [{"filter": "datum.r == 3"}], "mark": {"type": "arc", "filled": false, "theta": 0, "theta2": 6.2832, "stroke": "#2b2b96", "strokeWidth": 1.1, "strokeDash": [1.5, 2]}, "encoding": {"radius": {"field": "v", "type": "quantitative", "scale": {"domain": [0, 25], "range": [0, 147], "nice": false, "zero": true}, "stack": null}}},
{"data": {"name": "rose"}, "transform": [{"filter": "datum.r == 3"}, {"stack": "p", "groupby": ["d"], "sort": [{"field": "k", "order": "ascending"}], "as": ["lo", "hi"]}], "mark": {"type": "arc", "opacity": 1, "stroke": "#000", "strokeWidth": 0.9, "thetaOffset": -0.2618, "theta2Offset": 0.2618}, "encoding": {"theta": {"field": "d", "type": "quantitative", "scale": {"domain": [0, 360]}, "stack": null}, "theta2": {"field": "d"}, "radius": {"field": "hi", "type": "quantitative", "scale": {"domain": [0, 25], "range": [0, 147], "nice": false, "zero": true}, "stack": null}, "radius2": {"field": "lo"},
"color": {"field": "k", "type": "ordinal", "scale": {"domain": [30, 25, 20, 15, 10, 5, 0], "range": ["#ff00ff", "#00ffff", "#007a00", "#0000ff", "#ff0000", "#ffff00", "#c0dcc0"]}, "legend": {"orient": "none", "legendX": 390.5, "legendY": 1385.5, "title": ["CURRENT SPEED", "(cm/s)"], "titleFont": "Liberation Sans", "titleFontSize": 15.5, "titleFontWeight": "normal", "titleColor": "#000", "titleLineHeight": 12, "titlePadding": 6, "symbolType": "M-1,-1H5V1H-1Z", "symbolSize": 100, "symbolStrokeColor": "#000", "symbolStrokeWidth": 1.5, "symbolOpacity": 1, "labelFont": "Liberation Sans", "labelFontSize": 12.5, "labelColor": "#000", "labelOffset": 33, "rowPadding": -3.1, "labelExpr": "datum.value == 30 ? '>= 30.0' : datum.value == 25 ? '25.0 - 30.0' : datum.value == 20 ? '20.0 - 25.0' : datum.value == 15 ? '15.0 - 20.0' : datum.value == 10 ? '10.0 - 15.0' : datum.value == 5 ? '5.0 - 10.0' : '0.0 - 5.0'"}}}},
{"data": {"name": "rose"}, "transform": [{"filter": "datum.r == 3"}, {"aggregate": [{"op": "sum", "field": "p", "as": "t"}], "groupby": ["d"]}], "mark": {"type": "arc", "filled": false, "stroke": "#000", "strokeWidth": 2, "thetaOffset": -0.2618, "theta2Offset": 0.2618}, "encoding": {"theta": {"field": "d", "type": "quantitative", "scale": {"domain": [0, 360]}, "stack": null}, "theta2": {"field": "d"}, "radius": {"field": "t", "type": "quantitative", "scale": {"domain": [0, 25], "range": [0, 147], "nice": false, "zero": true}, "stack": null}}},
{"data": {"name": "rings"}, "transform": [{"filter": "datum.r == 3"}], "mark": {"type": "text", "dx": 7, "dy": 15, "font": "Liberation Sans", "fontSize": 12, "color": "#222"}, "encoding": {"theta": {"datum": 45, "type": "quantitative", "scale": {"domain": [0, 360]}}, "radius": {"field": "v", "type": "quantitative", "scale": {"domain": [0, 25], "range": [0, 147], "nice": false, "zero": true}, "stack": null}, "text": {"field": "t"}}},
{"data": {"name": "rings"}, "transform": [{"filter": "datum.r == 3 && datum.v == 25"}], "mark": {"type": "text", "text": "NORTH", "align": "left", "dx": 4, "font": "Liberation Sans", "fontSize": 11.5, "color": "#222"}, "encoding": {"theta": {"datum": 0, "type": "quantitative", "scale": {"domain": [0, 360]}}, "radius": {"datum": 23.5, "type": "quantitative", "scale": {"domain": [0, 25], "range": [0, 147], "nice": false, "zero": true}}}},
{"data": {"name": "rings"}, "transform": [{"filter": "datum.r == 3 && datum.v == 25"}], "mark": {"type": "text", "text": "SOUTH", "align": "left", "dx": 4, "font": "Liberation Sans", "fontSize": 11.5, "color": "#222"}, "encoding": {"theta": {"datum": 180, "type": "quantitative", "scale": {"domain": [0, 360]}}, "radius": {"datum": 24.5, "type": "quantitative", "scale": {"domain": [0, 25], "range": [0, 147], "nice": false, "zero": true}}}},
{"data": {"name": "rings"}, "transform": [{"filter": "datum.r == 3 && datum.v == 25"}], "mark": {"type": "text", "text": "WEST", "align": "left", "dy": 10, "font": "Liberation Sans", "fontSize": 11.5, "color": "#222"}, "encoding": {"theta": {"datum": 270, "type": "quantitative", "scale": {"domain": [0, 360]}}, "radius": {"datum": 23.9, "type": "quantitative", "scale": {"domain": [0, 25], "range": [0, 147], "nice": false, "zero": true}}}},
{"data": {"name": "rings"}, "transform": [{"filter": "datum.r == 3 && datum.v == 25"}], "mark": {"type": "text", "text": "EAST", "align": "left", "dy": 10, "font": "Liberation Sans", "fontSize": 11.5, "color": "#222"}, "encoding": {"theta": {"datum": 90, "type": "quantitative", "scale": {"domain": [0, 360]}}, "radius": {"datum": 20.25, "type": "quantitative", "scale": {"domain": [0, 25], "range": [0, 147], "nice": false, "zero": true}}}}
]
},
{
"width": 310, "height": 328.5,
"layer": [
{"data": {"name": "rose"}, "transform": [{"filter": "datum.r == 4 && datum.k == 0 && datum.d % 90 == 0"}], "mark": {"type": "arc", "filled": false, "stroke": "#2b2b96", "strokeWidth": 1.1, "strokeDash": [1.5, 2]}, "encoding": {"theta": {"field": "d", "type": "quantitative", "scale": {"domain": [0, 360]}, "stack": null}, "theta2": {"field": "d"}, "radius": {"datum": 25, "type": "quantitative", "scale": {"domain": [0, 25], "range": [0, 149], "nice": false, "zero": true}}, "radius2": {"datum": 0}}},
{"data": {"name": "rings"}, "transform": [{"filter": "datum.r == 4"}], "mark": {"type": "arc", "filled": false, "theta": 0, "theta2": 6.2832, "stroke": "#2b2b96", "strokeWidth": 1.1, "strokeDash": [1.5, 2]}, "encoding": {"radius": {"field": "v", "type": "quantitative", "scale": {"domain": [0, 25], "range": [0, 149], "nice": false, "zero": true}, "stack": null}}},
{"data": {"name": "rose"}, "transform": [{"filter": "datum.r == 4"}, {"stack": "p", "groupby": ["d"], "sort": [{"field": "k", "order": "ascending"}], "as": ["lo", "hi"]}], "mark": {"type": "arc", "opacity": 1, "stroke": "#000", "strokeWidth": 0.9, "thetaOffset": -0.2618, "theta2Offset": 0.2618}, "encoding": {"theta": {"field": "d", "type": "quantitative", "scale": {"domain": [0, 360]}, "stack": null}, "theta2": {"field": "d"}, "radius": {"field": "hi", "type": "quantitative", "scale": {"domain": [0, 25], "range": [0, 149], "nice": false, "zero": true}, "stack": null}, "radius2": {"field": "lo"},
"color": {"field": "k", "type": "ordinal", "scale": {"domain": [30, 25, 20, 15, 10, 5, 0], "range": ["#ff00ff", "#00ffff", "#007a00", "#0000ff", "#ff0000", "#ffff00", "#c0dcc0"]}, "legend": {"orient": "none", "legendX": 390.5, "legendY": 1385.5, "title": ["CURRENT SPEED", "(cm/s)"], "titleFont": "Liberation Sans", "titleFontSize": 15.5, "titleFontWeight": "normal", "titleColor": "#000", "titleLineHeight": 12, "titlePadding": 6, "symbolType": "M-1,-1H5V1H-1Z", "symbolSize": 100, "symbolStrokeColor": "#000", "symbolStrokeWidth": 1.5, "symbolOpacity": 1, "labelFont": "Liberation Sans", "labelFontSize": 12.5, "labelColor": "#000", "labelOffset": 33, "rowPadding": -3.1, "labelExpr": "datum.value == 30 ? '>= 30.0' : datum.value == 25 ? '25.0 - 30.0' : datum.value == 20 ? '20.0 - 25.0' : datum.value == 15 ? '15.0 - 20.0' : datum.value == 10 ? '10.0 - 15.0' : datum.value == 5 ? '5.0 - 10.0' : '0.0 - 5.0'"}}}},
{"data": {"name": "rose"}, "transform": [{"filter": "datum.r == 4"}, {"aggregate": [{"op": "sum", "field": "p", "as": "t"}], "groupby": ["d"]}], "mark": {"type": "arc", "filled": false, "stroke": "#000", "strokeWidth": 2, "thetaOffset": -0.2618, "theta2Offset": 0.2618}, "encoding": {"theta": {"field": "d", "type": "quantitative", "scale": {"domain": [0, 360]}, "stack": null}, "theta2": {"field": "d"}, "radius": {"field": "t", "type": "quantitative", "scale": {"domain": [0, 25], "range": [0, 149], "nice": false, "zero": true}, "stack": null}}},
{"data": {"name": "rings"}, "transform": [{"filter": "datum.r == 4"}], "mark": {"type": "text", "dx": 7, "dy": 15, "font": "Liberation Sans", "fontSize": 12, "color": "#222"}, "encoding": {"theta": {"datum": 45, "type": "quantitative", "scale": {"domain": [0, 360]}}, "radius": {"field": "v", "type": "quantitative", "scale": {"domain": [0, 25], "range": [0, 149], "nice": false, "zero": true}, "stack": null}, "text": {"field": "t"}}},
{"data": {"name": "rings"}, "transform": [{"filter": "datum.r == 4 && datum.v == 25"}], "mark": {"type": "text", "text": "NORTH", "align": "left", "dx": 4, "font": "Liberation Sans", "fontSize": 11.5, "color": "#222"}, "encoding": {"theta": {"datum": 0, "type": "quantitative", "scale": {"domain": [0, 360]}}, "radius": {"datum": 23.5, "type": "quantitative", "scale": {"domain": [0, 25], "range": [0, 149], "nice": false, "zero": true}}}},
{"data": {"name": "rings"}, "transform": [{"filter": "datum.r == 4 && datum.v == 25"}], "mark": {"type": "text", "text": "SOUTH", "align": "left", "dx": 4, "font": "Liberation Sans", "fontSize": 11.5, "color": "#222"}, "encoding": {"theta": {"datum": 180, "type": "quantitative", "scale": {"domain": [0, 360]}}, "radius": {"datum": 24.5, "type": "quantitative", "scale": {"domain": [0, 25], "range": [0, 149], "nice": false, "zero": true}}}},
{"data": {"name": "rings"}, "transform": [{"filter": "datum.r == 4 && datum.v == 25"}], "mark": {"type": "text", "text": "WEST", "align": "left", "dy": 10, "font": "Liberation Sans", "fontSize": 11.5, "color": "#222"}, "encoding": {"theta": {"datum": 270, "type": "quantitative", "scale": {"domain": [0, 360]}}, "radius": {"datum": 23.9, "type": "quantitative", "scale": {"domain": [0, 25], "range": [0, 149], "nice": false, "zero": true}}}},
{"data": {"name": "rings"}, "transform": [{"filter": "datum.r == 4 && datum.v == 25"}], "mark": {"type": "text", "text": "EAST", "align": "left", "dy": 10, "font": "Liberation Sans", "fontSize": 11.5, "color": "#222"}, "encoding": {"theta": {"datum": 90, "type": "quantitative", "scale": {"domain": [0, 360]}}, "radius": {"datum": 20.25, "type": "quantitative", "scale": {"domain": [0, 25], "range": [0, 149], "nice": false, "zero": true}}}}
]
},
{
"width": 310, "height": 337.5,
"layer": [
{"data": {"name": "rose"}, "transform": [{"filter": "datum.r == 5 && datum.k == 0 && datum.d % 90 == 0"}], "mark": {"type": "arc", "filled": false, "stroke": "#2b2b96", "strokeWidth": 1.1, "strokeDash": [1.5, 2]}, "encoding": {"theta": {"field": "d", "type": "quantitative", "scale": {"domain": [0, 360]}, "stack": null}, "theta2": {"field": "d"}, "radius": {"datum": 30, "type": "quantitative", "scale": {"domain": [0, 30], "range": [0, 153], "nice": false, "zero": true}}, "radius2": {"datum": 0}}},
{"data": {"name": "rings"}, "transform": [{"filter": "datum.r == 5"}], "mark": {"type": "arc", "filled": false, "theta": 0, "theta2": 6.2832, "stroke": "#2b2b96", "strokeWidth": 1.1, "strokeDash": [1.5, 2]}, "encoding": {"radius": {"field": "v", "type": "quantitative", "scale": {"domain": [0, 30], "range": [0, 153], "nice": false, "zero": true}, "stack": null}}},
{"data": {"name": "rose"}, "transform": [{"filter": "datum.r == 5"}, {"stack": "p", "groupby": ["d"], "sort": [{"field": "k", "order": "ascending"}], "as": ["lo", "hi"]}], "mark": {"type": "arc", "opacity": 1, "stroke": "#000", "strokeWidth": 0.9, "thetaOffset": -0.2618, "theta2Offset": 0.2618}, "encoding": {"theta": {"field": "d", "type": "quantitative", "scale": {"domain": [0, 360]}, "stack": null}, "theta2": {"field": "d"}, "radius": {"field": "hi", "type": "quantitative", "scale": {"domain": [0, 30], "range": [0, 153], "nice": false, "zero": true}, "stack": null}, "radius2": {"field": "lo"},
"color": {"field": "k", "type": "ordinal", "scale": {"domain": [30, 25, 20, 15, 10, 5, 0], "range": ["#ff00ff", "#00ffff", "#007a00", "#0000ff", "#ff0000", "#ffff00", "#c0dcc0"]}, "legend": {"orient": "none", "legendX": 390.5, "legendY": 1385.5, "title": ["CURRENT SPEED", "(cm/s)"], "titleFont": "Liberation Sans", "titleFontSize": 15.5, "titleFontWeight": "normal", "titleColor": "#000", "titleLineHeight": 12, "titlePadding": 6, "symbolType": "M-1,-1H5V1H-1Z", "symbolSize": 100, "symbolStrokeColor": "#000", "symbolStrokeWidth": 1.5, "symbolOpacity": 1, "labelFont": "Liberation Sans", "labelFontSize": 12.5, "labelColor": "#000", "labelOffset": 33, "rowPadding": -3.1, "labelExpr": "datum.value == 30 ? '>= 30.0' : datum.value == 25 ? '25.0 - 30.0' : datum.value == 20 ? '20.0 - 25.0' : datum.value == 15 ? '15.0 - 20.0' : datum.value == 10 ? '10.0 - 15.0' : datum.value == 5 ? '5.0 - 10.0' : '0.0 - 5.0'"}}}},
{"data": {"name": "rose"}, "transform": [{"filter": "datum.r == 5"}, {"aggregate": [{"op": "sum", "field": "p", "as": "t"}], "groupby": ["d"]}], "mark": {"type": "arc", "filled": false, "stroke": "#000", "strokeWidth": 2, "thetaOffset": -0.2618, "theta2Offset": 0.2618}, "encoding": {"theta": {"field": "d", "type": "quantitative", "scale": {"domain": [0, 360]}, "stack": null}, "theta2": {"field": "d"}, "radius": {"field": "t", "type": "quantitative", "scale": {"domain": [0, 30], "range": [0, 153], "nice": false, "zero": true}, "stack": null}}},
{"data": {"name": "rings"}, "transform": [{"filter": "datum.r == 5"}], "mark": {"type": "text", "dx": 7, "dy": 15, "font": "Liberation Sans", "fontSize": 12, "color": "#222"}, "encoding": {"theta": {"datum": 45, "type": "quantitative", "scale": {"domain": [0, 360]}}, "radius": {"field": "v", "type": "quantitative", "scale": {"domain": [0, 30], "range": [0, 153], "nice": false, "zero": true}, "stack": null}, "text": {"field": "t"}}},
{"data": {"name": "rings"}, "transform": [{"filter": "datum.r == 5 && datum.v == 30"}], "mark": {"type": "text", "text": "NORTH", "align": "left", "dx": 4, "font": "Liberation Sans", "fontSize": 11.5, "color": "#222"}, "encoding": {"theta": {"datum": 0, "type": "quantitative", "scale": {"domain": [0, 360]}}, "radius": {"datum": 28.2, "type": "quantitative", "scale": {"domain": [0, 30], "range": [0, 153], "nice": false, "zero": true}}}},
{"data": {"name": "rings"}, "transform": [{"filter": "datum.r == 5 && datum.v == 30"}], "mark": {"type": "text", "text": "SOUTH", "align": "left", "dx": 4, "font": "Liberation Sans", "fontSize": 11.5, "color": "#222"}, "encoding": {"theta": {"datum": 180, "type": "quantitative", "scale": {"domain": [0, 360]}}, "radius": {"datum": 29.4, "type": "quantitative", "scale": {"domain": [0, 30], "range": [0, 153], "nice": false, "zero": true}}}},
{"data": {"name": "rings"}, "transform": [{"filter": "datum.r == 5 && datum.v == 30"}], "mark": {"type": "text", "text": "WEST", "align": "left", "dy": 10, "font": "Liberation Sans", "fontSize": 11.5, "color": "#222"}, "encoding": {"theta": {"datum": 270, "type": "quantitative", "scale": {"domain": [0, 360]}}, "radius": {"datum": 28.65, "type": "quantitative", "scale": {"domain": [0, 30], "range": [0, 153], "nice": false, "zero": true}}}},
{"data": {"name": "rings"}, "transform": [{"filter": "datum.r == 5 && datum.v == 30"}], "mark": {"type": "text", "text": "EAST", "align": "left", "dy": 10, "font": "Liberation Sans", "fontSize": 11.5, "color": "#222"}, "encoding": {"theta": {"datum": 90, "type": "quantitative", "scale": {"domain": [0, 360]}}, "radius": {"datum": 24.3, "type": "quantitative", "scale": {"domain": [0, 30], "range": [0, 153], "nice": false, "zero": true}}}}
]
}
]
}
]
}
